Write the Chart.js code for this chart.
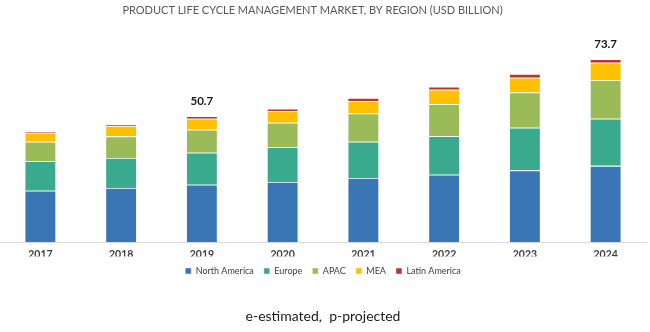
<!DOCTYPE html>
<html lang="en">
<head>
  <meta charset="UTF-8" />
  <title>Product Life Cycle Management Market</title>
  <script src="https://cdn.jsdelivr.net/npm/chart.js"></script>
  <style>
    html, body { margin: 0; padding: 0; background: #fff; }
    #wrap { width: 650px; height: 332px; position: relative; }
  </style>
</head>
<body>
<div id="wrap"><canvas id="plmChart"></canvas></div>

<script>
  // Market size by region, USD billion
  const years = ['2017', '2018', '2019', '2020', '2021', '2022', '2023', '2024'];
  const northAmerica = [20.7, 21.8, 23.1, 24.2, 25.8, 27.1, 28.9, 30.7];
  const europe       = [11.9, 12.1, 12.9, 14.0, 14.6, 15.6, 17.2, 19.0];
  const apac         = [7.8, 8.7, 9.3, 9.9, 11.4, 12.9, 14.2, 15.6];
  const mea          = [3.7, 4.2, 4.4, 4.7, 5.0, 5.8, 5.9, 7.0];
  const latinAmerica = [0.6, 0.6, 1.0, 0.9, 1.3, 1.2, 1.6, 1.4];

  // totals printed above these bars
  const labelledTotals = { '2019': '50.7', '2024': '73.7' };

  const font = 'Lato, "Open Sans", sans-serif';

  function series(label, data, color) {
    return {
      label: label,
      data: data,
      backgroundColor: color,
      borderColor: 'rgba(255,255,255,0.55)',
      borderWidth: 0.8,
      borderSkipped: 'bottom'
    };
  }

  // writes the stacked total over the chosen bars
  const totalLabels = {
    id: 'totalLabels',
    afterLayout(chart) {
      // title sits a little left of the canvas centre
      if (chart.titleBlock) chart.titleBlock.right = chart.width - 25;
    },
    afterDatasetsDraw(chart) {
      const ctx = chart.ctx;
      const meta = chart.getDatasetMeta(chart.data.datasets.length - 1);
      const y = chart.scales.y;
      ctx.save();
      ctx.font = 'bold 11.5px ' + font;
      ctx.fillStyle = '#1a1a1a';
      ctx.textAlign = 'center';
      ctx.textBaseline = 'bottom';
      years.forEach((yr, i) => {
        if (!labelledTotals[yr]) return;
        const total = parseFloat(labelledTotals[yr]);
        ctx.fillText(labelledTotals[yr], meta.data[i].x, y.getPixelForValue(total) - 9);
      });
      ctx.restore();
    }
  };

  new Chart(document.getElementById('plmChart').getContext('2d'), {
    type: 'bar',
    data: {
      labels: years,
      datasets: [
        series('North America', northAmerica, '#3a75b5'),
        series('Europe', europe, '#3aaa8f'),
        series('APAC', apac, '#9bbb59'),
        series('MEA', mea, '#ffc000'),
        series('Latin America', latinAmerica, '#b8382a')
      ]
    },
    options: {
      responsive: true,
      maintainAspectRatio: false,
      animation: false,
      datasets: { bar: { categoryPercentage: 1, barPercentage: 0.39 } },
      layout: { padding: { left: 0, right: 4, top: 0, bottom: 0 } },
      scales: {
        x: {
          stacked: true,
          grid: { display: false, drawTicks: false },
          border: { display: true, color: '#d9d9d9', width: 1 },
          ticks: { padding: 6, color: '#404040', font: { family: font, size: 10.5, weight: 'bold' } },
          afterFit: s => { s.height = 14.5; }
        },
        y: {
          stacked: true,
          display: false,
          min: 0,
          max: 80
        }
      },
      plugins: {
        tooltip: { enabled: false },
        title: {
          display: true,
          text: 'PRODUCT LIFE CYCLE MANAGEMENT MARKET, BY REGION (USD BILLION)',
          color: '#595959',
          font: { family: font, size: 11, weight: 'normal' },
          padding: { top: 3.6, bottom: 26.8 }
        },
        legend: {
          position: 'bottom',
          labels: {
            boxWidth: 6,
            boxHeight: 6,
            padding: 10,
            color: '#404040',
            font: { family: font, size: 9 }
          }
        },
        subtitle: {
          display: true,
          position: 'bottom',
          text: 'e-estimated,  p-projected',
          color: '#1a1a1a',
          font: { family: font, size: 14, weight: 'normal' },
          padding: { top: 22.1, bottom: 7.6 }
        }
      }
    },
    plugins: [totalLabels]
  });
</script>
</body>
</html>
